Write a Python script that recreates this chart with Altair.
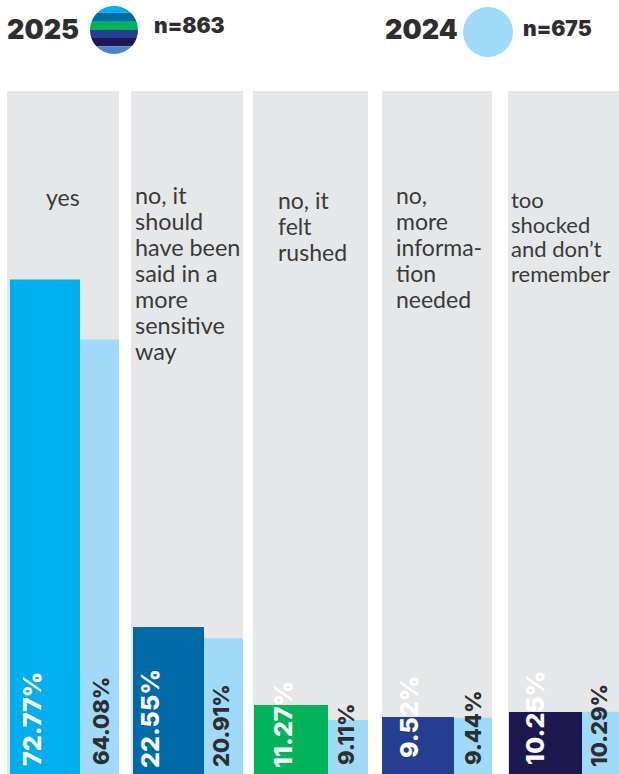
import math
import altair as alt
import pandas as pd

# Survey responses, percent of respondents
categories = ["yes", "no, it\nshould\nhave been\nsaid in a\nmore\nsensitive\nway",
              "no, it\nfelt\nrushed", "no,\nmore\ninforma-\ntion\nneeded",
              "too\nshocked\nand don\u2019t\nremember"]
values_2025 = [72.77, 22.55, 11.27, 9.52, 10.25]
values_2024 = [64.08, 20.91, 9.11, 9.44, 10.29]
colors_2025 = ["#00AEEF", "#0069A8", "#00B259", "#243F8F", "#1E1850"]

# Layout, in page pixels
W, H = 619, 774
panel_x = [(7, 119), (131, 243), (253, 368), (382, 492), (508, 619)]
bar_x_2025 = [(10, 80), (133, 204), (254, 328), (382, 454), (509, 582)]
bar_x_2024 = [(80, 119), (204, 243), (328, 368), (454, 492), (582, 619)]
label_x_2025 = [33, 151, 284, 410, 536]
label_y_2025 = [766, 768, 768, 758, 765]
label_x_2024 = [102, 222, 347, 474, 600]
label_y_2024 = [765, 767, 765, 765, 767]
cat_x = [46, 135, 278, 396, 511]
cat_y = [206, 204, 209, 204, 208]
cat_line = [26, 26, 26, 26, 24.6]
cat_size = [23, 23.4, 23, 23, 22]

LIGHT = "#9FDBF8"
GREY = "#E6E7E8"
INK = "#2E2E2E"
BOLD = "Inter"
THIN = "Lato"

x_scale = alt.Scale(domain=[0, W], range=[0, W])
# The value axis starts at zero just below the visible edge, so bars run off the bottom
y_scale = alt.Scale(domain=[1.3, 113.15], range=[H, 0], nice=False, zero=False)
X = alt.X("x0:Q", scale=x_scale, axis=None)
Y = alt.Y("v:Q", scale=y_scale, axis=None)

panels = pd.DataFrame({"x0": [p[0] for p in panel_x], "x1": [p[1] for p in panel_x],
                       "v": [100] * 5})
bars = pd.DataFrame({
    "x0": [b[0] for b in bar_x_2025] + [b[0] for b in bar_x_2024],
    "x1": [b[1] for b in bar_x_2025] + [b[1] for b in bar_x_2024],
    "v": values_2025 + values_2024,
    "c": colors_2025 + [LIGHT] * 5,
})

layers = [
    alt.Chart(panels).mark_rect(color=GREY).encode(x=X, x2="x1:Q", y=Y, y2=alt.datum(0)),
    alt.Chart(bars).mark_rect(clip=True).encode(
        x=X, x2="x1:Q", y=Y, y2=alt.datum(0), color=alt.Color("c:N", scale=None)),
]


def text_at(s, x, y, **kw):
    return alt.Chart(pd.DataFrame({"t": [s]})).mark_text(**kw).encode(
        x=alt.value(x), y=alt.value(y), text="t:N")


# Category captions inside the grey panels
for s, x, y, lh, fs in zip(categories, cat_x, cat_y, cat_line, cat_size):
    layers.append(text_at(s, x, y, font=THIN, fontSize=fs, fontWeight=400, color="#3A3A3A",
                          align="left", baseline="alphabetic", lineBreak="\n", lineHeight=lh))

# Rotated value labels
for v, x, y in zip(values_2025, label_x_2025, label_y_2025):
    layers.append(text_at(f"{v:.2f}%", x, y, font=BOLD, fontSize=25, fontWeight=800,
                          color="white", angle=270, align="left", baseline="middle"))
for v, x, y in zip(values_2024, label_x_2024, label_y_2024):
    layers.append(text_at(f"{v:.2f}%", x, y, font=BOLD, fontSize=22,
                          fontWeight=800, color=INK, angle=270, align="left", baseline="middle"))


def band(top, bottom):
    """Slice of a unit circle between two heights, as an SVG path."""
    xt = math.sqrt(max(0, 1 - top ** 2))
    xb = math.sqrt(max(0, 1 - bottom ** 2))
    return (f"M{-xt:.4f} {top:.4f}L{xt:.4f} {top:.4f}A1 1 0 0 1 {xb:.4f} {bottom:.4f}"
            f"L{-xb:.4f} {bottom:.4f}A1 1 0 0 1 {-xt:.4f} {top:.4f}Z")


# Legend: striped disc for 2025, plain disc for 2024
stripe_edges = [-1, -0.72, -0.38, 0.0, 0.33, 0.68, 1]
stripe_colors = ["#00AEEF", "#0069A8", "#00B259", "#243F8F", "#1E1850", "#4A86C8"]
legend_pt = pd.DataFrame({"k": [0]})
for a, b, c in zip(stripe_edges, stripe_edges[1:], stripe_colors):
    layers.append(alt.Chart(legend_pt).mark_point(
        shape=band(a, b), filled=True, opacity=1, color=c, size=2304, strokeWidth=0
    ).encode(x=alt.value(114), y=alt.value(30)))
layers.append(alt.Chart(legend_pt).mark_point(
    shape="circle", filled=True, opacity=1, color=LIGHT, size=2500,
    strokeWidth=0).encode(x=alt.value(488), y=alt.value(32)))

for s, x, y, fs in [("2025", 7, 39, 27), ("2024", 385, 39, 27),
                    ("n=863", 154, 33, 21), ("n=675", 523, 36, 21)]:
    layers.append(text_at(s, x, y, font=BOLD, fontSize=fs, fontWeight=900, color=INK,
                          align="left", baseline="alphabetic"))

chart = alt.layer(*layers).properties(
    width=W, height=H, padding=0, background="white",
    autosize=alt.AutoSizeParams(type="none"),
).configure_view(stroke=None)

chart.save("out.html", embed_options={"renderer": "svg", "actions": False})
